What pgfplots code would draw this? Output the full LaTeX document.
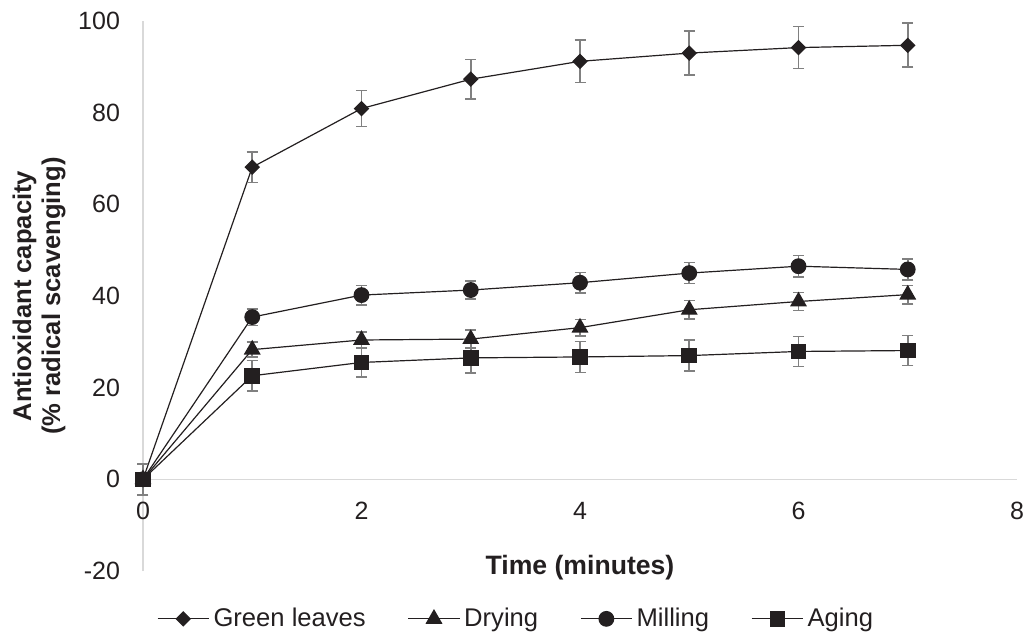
\documentclass[border=0pt]{standalone}
\usepackage{fontspec}
\setmainfont{Liberation Sans}
\usepackage{pgfplots}
\pgfplotsset{compat=1.18}
\definecolor{ink}{RGB}{35,31,32}
\definecolor{errgray}{RGB}{128,128,128}
\definecolor{axgray}{RGB}{217,217,217}

\pgfplotsset{
  series/.style={color=ink, line width=0.6pt, mark options={solid, fill=ink, draw=ink},
    error bars/y dir=both, error bars/y explicit,
    error bars/error bar style={errgray, line width=0.8pt},
    error bars/error mark options={rotate=90, errgray, mark size=2.75pt, line width=0.8pt}},
}

\begin{document}
\begin{tikzpicture}
\begin{axis}[
  scale only axis, width=437pt, height=275pt,
  xmin=0, xmax=8, ymin=-20, ymax=100,
  axis x line=middle, axis y line=left,
  axis line style={-, axgray, line width=0.8pt},
  hide obscured x ticks=false, hide obscured y ticks=false,
  xtick={0,2,...,8}, ytick={-20,0,...,100},
  major tick length=0pt,
  tick label style={font=\fontsize{12.5}{15}\selectfont, text=ink},
  /pgf/number format/assume math mode=true,
  xticklabel style={yshift=-8pt},
  yticklabel style={xshift=-8pt},
  xlabel={\textbf{Time (minutes)}},
  x label style={at={(axis description cs:0.5,0.007)}, anchor=center, font=\fontsize{13.3}{15}\selectfont, text=ink},
  ylabel={\textbf{Antioxidant capacity}\\\textbf{(\% radical scavenging)}},
  y label style={at={(axis description cs:-0.119,0.5)}, anchor=center, align=center, font=\fontsize{12.8}{14.5}\selectfont, text=ink},
  clip=false,
  legend columns=4,
  legend style={at={(axis description cs:0.428,-0.087)}, anchor=center, draw=none, fill=none,
    font=\fontsize{12.8}{15}\selectfont, text=ink,
    /tikz/every even column/.append style={column sep=19pt}},
  legend image code/.code={\draw[mark repeat=2, mark phase=2, #1] plot coordinates {(0cm,0cm) (0.45cm,0cm) (0.9cm,0cm)};},
]
% Green leaves
\addplot[series, mark=square*, mark size=2.45pt, mark options={rotate=45}] coordinates {
  (0,0) +- (0,0)
  (1,68.1) +- (0,3.3)
  (2,80.9) +- (0,3.9)
  (3,87.3) +- (0,4.3)
  (4,91.2) +- (0,4.6)
  (5,93.0) +- (0,4.8)
  (6,94.2) +- (0,4.6)
  (7,94.7) +- (0,4.8)
};
\addlegendentry{Green leaves}
% Drying
\addplot[series, mark=triangle*, mark size=4.3pt] coordinates {
  (0,0) +- (0,0)
  (1,28.3) +- (0,1.6)
  (2,30.4) +- (0,1.7)
  (3,30.6) +- (0,2.0)
  (4,33.1) +- (0,1.8)
  (5,37.0) +- (0,2.0)
  (6,38.8) +- (0,2.0)
  (7,40.3) +- (0,2.0)
};
\addlegendentry{Drying}
% Milling
\addplot[series, mark=*, mark size=3.65pt] coordinates {
  (0,0) +- (0,0)
  (1,35.4) +- (0,1.8)
  (2,40.2) +- (0,2.1)
  (3,41.3) +- (0,2.0)
  (4,42.9) +- (0,2.2)
  (5,45.0) +- (0,2.3)
  (6,46.5) +- (0,2.3)
  (7,45.8) +- (0,2.3)
};
\addlegendentry{Milling}
% Aging
\addplot[series, mark=square*, mark size=3.6pt] coordinates {
  (0,0) +- (0,3.4)
  (1,22.6) +- (0,3.3)
  (2,25.5) +- (0,3.2)
  (3,26.5) +- (0,3.3)
  (4,26.7) +- (0,3.4)
  (5,27.0) +- (0,3.4)
  (6,27.9) +- (0,3.3)
  (7,28.1) +- (0,3.3)
};
\addlegendentry{Aging}
\end{axis}
\pgfresetboundingbox
\path ([xshift=-71.5pt,yshift=-30.5pt]current axis.south west) rectangle ([xshift=6pt,yshift=10.5pt]current axis.north east);
\end{tikzpicture}
\end{document}
